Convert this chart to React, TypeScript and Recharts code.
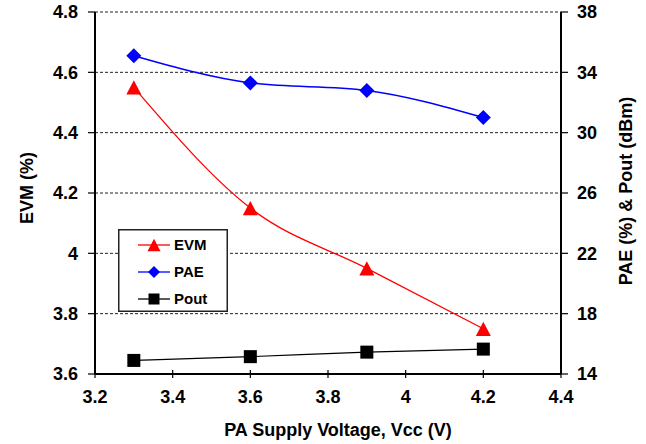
import React from 'react';
import { LineChart, Line, XAxis, YAxis, CartesianGrid, Legend, Label } from 'recharts';

const vcc = [3.3, 3.6, 3.9, 4.2];
const evm = [4.55, 4.15, 3.95, 3.75];
const pae = [35.1, 33.3, 32.8, 31.0];
const pout = [14.9, 15.15, 15.45, 15.65];

const xTicks = [3.2, 3.4, 3.6, 3.8, 4.0, 4.2, 4.4];
const leftTicks = [3.6, 3.8, 4.0, 4.2, 4.4, 4.6, 4.8];
const rightTicks = [14, 18, 22, 26, 30, 34, 38];

const data = vcc.map((v, i) => ({ vcc: v, evm: evm[i], pae: pae[i], pout: pout[i] }));

const FONT = '"Liberation Sans", Arial, sans-serif';
const FS = 18;
const X_TICK = 4;
const X_MARGIN = 12;

const fmt = (v: number) => String(Number(v.toFixed(1)));

const XTick = (props: any) => {
  const { x, y, payload } = props;
  const ay = y - X_TICK - X_MARGIN;
  return (
    <g>
      <line x1={x} x2={x} y1={ay - 4} y2={ay + 4} stroke="#000" strokeWidth={1.2} />
      <text x={x} y={y} dy="0.71em" textAnchor="middle" fontFamily={FONT} fontWeight="bold" fontSize={FS} fill="#000">
        {fmt(payload.value)}
      </text>
    </g>
  );
};

const Triangle = (props: any) => {
  const { cx, cy, index, size = 15, color = '#FF0000' } = props;
  if (cx == null || cy == null) return null;
  const h = size * 0.95;
  return <path key={`t${index}`} d={`M${cx},${cy - h / 2} L${cx + size / 2},${cy + h / 2} L${cx - size / 2},${cy + h / 2} Z`} fill={color} />;
};
const Diamond = (props: any) => {
  const { cx, cy, index, size = 15, color = '#0000FF' } = props;
  if (cx == null || cy == null) return null;
  const s = size / 2;
  return <path key={`d${index}`} d={`M${cx},${cy - s} L${cx + s},${cy} L${cx},${cy + s} L${cx - s},${cy} Z`} fill={color} />;
};
const Square = (props: any) => {
  const { cx, cy, index, size = 13, color = '#000' } = props;
  if (cx == null || cy == null) return null;
  return <rect key={`s${index}`} x={cx - size / 2} y={cy - size / 2} width={size} height={size} fill={color} />;
};

const legendItems = [
  { name: 'EVM', color: '#FF0000', Marker: Triangle, size: 13 },
  { name: 'PAE', color: '#0000FF', Marker: Diamond, size: 12 },
  { name: 'Pout', color: '#000000', Marker: Square, size: 11 },
];

const LegendContent = () => (
  <svg width={110} height={83} style={{ display: 'block' }}>
    <rect x={0.75} y={0.75} width={108.5} height={81.5} fill="#fff" stroke="#222" strokeWidth={1.5} />
    {legendItems.map((it, i) => {
      const cy = 16 + i * 27;
      const M = it.Marker;
      return (
        <g key={it.name}>
          <line x1={20} x2={52} y1={cy} y2={cy} stroke={it.color} strokeWidth={1.3} />
          <M cx={36} cy={cy} size={it.size} color={it.color} index={i} />
          <text x={56} y={cy} dy="0.36em" fontFamily={FONT} fontWeight="bold" fontSize={15} fill="#000">
            {it.name}
          </text>
        </g>
      );
    })}
  </svg>
);

const LeftLabel = (props: any) => {
  const vb = props.viewBox || { x: 0, y: 12, width: 95, height: 362 };
  const x = vb.x + 27;
  const y = vb.y + vb.height / 2 - 5;
  return (
    <text x={x} y={y} transform={`rotate(-90 ${x} ${y})`} textAnchor="middle" dominantBaseline="central" fontFamily={FONT} fontWeight="bold" fontSize={FS} fill="#000">
      EVM (%)
    </text>
  );
};
const RightLabel = (props: any) => {
  const vb = props.viewBox || { x: 561, y: 12, width: 85, height: 362 };
  const x = vb.x + 65;
  const y = vb.y + vb.height / 2 - 2;
  return (
    <text x={x} y={y} transform={`rotate(-90 ${x} ${y})`} textAnchor="middle" dominantBaseline="central" fontFamily={FONT} fontWeight="bold" fontSize={FS} fill="#000">
      PAE (%) &amp; Pout (dBm)
    </text>
  );
};
const BottomLabel = (props: any) => {
  const vb = props.viewBox || { x: 95, y: 374, width: 466, height: 70 };
  const x = vb.x + vb.width / 2 + 10;
  const y = vb.y + 56;
  return (
    <text x={x} y={y} textAnchor="middle" dominantBaseline="central" fontFamily={FONT} fontWeight="bold" fontSize={FS} fill="#000">
      PA Supply Voltage, Vcc (V)
    </text>
  );
};

export default function App() {
  return (
    <div style={{ position: 'absolute', left: 0, top: 0, width: 646, height: 444, background: '#fff' }}>
      <LineChart width={646} height={444} data={data} margin={{ top: 12, right: 0, bottom: 0, left: 0 }}>
        <CartesianGrid yAxisId="left" vertical={false} stroke="#222" strokeDasharray="3 2" strokeWidth={1} />
        <XAxis
          dataKey="vcc"
          type="number"
          domain={[3.2, 4.4]}
          ticks={xTicks}
          height={70}
          axisLine={{ stroke: '#000', strokeWidth: 2 }}
          tickLine={false}
          tickSize={X_TICK}
          tickMargin={X_MARGIN}
          tick={<XTick />}
          interval={0}
        >
          <Label content={<BottomLabel />} />
        </XAxis>
        <YAxis
          yAxisId="left"
          orientation="left"
          domain={[3.6, 4.8]}
          ticks={leftTicks}
          width={95}
          axisLine={{ stroke: '#000', strokeWidth: 2 }}
          tickLine={{ stroke: '#000', strokeWidth: 1.2 }}
          tickSize={7}
          tickMargin={10}
          tickFormatter={fmt}
          tick={{ fill: '#000', fontFamily: FONT, fontWeight: 'bold', fontSize: FS }}
          interval={0}
        >
          <Label content={<LeftLabel />} />
        </YAxis>
        <YAxis
          yAxisId="right"
          orientation="right"
          domain={[14, 38]}
          ticks={rightTicks}
          width={85}
          axisLine={{ stroke: '#000', strokeWidth: 2 }}
          tickLine={{ stroke: '#000', strokeWidth: 1.2 }}
          tickSize={7}
          tickMargin={9}
          tick={{ fill: '#000', fontFamily: FONT, fontWeight: 'bold', fontSize: FS }}
          interval={0}
        >
          <Label content={<RightLabel />} />
        </YAxis>
        <Legend
          layout="vertical"
          align="center"
          verticalAlign="middle"
          wrapperStyle={{ left: 118, top: 229, width: 110, height: 83 }}
          content={<LegendContent />}
        />
        <Line yAxisId="left" dataKey="evm" name="EVM" type="monotone" stroke="#FF0000" strokeWidth={1.3} dot={<Triangle color="#FF0000" />} activeDot={false} isAnimationActive={false} />
        <Line yAxisId="right" dataKey="pae" name="PAE" type="monotone" stroke="#0000FF" strokeWidth={1.5} dot={<Diamond color="#0000FF" />} activeDot={false} isAnimationActive={false} />
        <Line yAxisId="right" dataKey="pout" name="Pout" type="monotone" stroke="#000000" strokeWidth={1.2} dot={<Square color="#000" />} activeDot={false} isAnimationActive={false} />
      </LineChart>
    </div>
  );
}
